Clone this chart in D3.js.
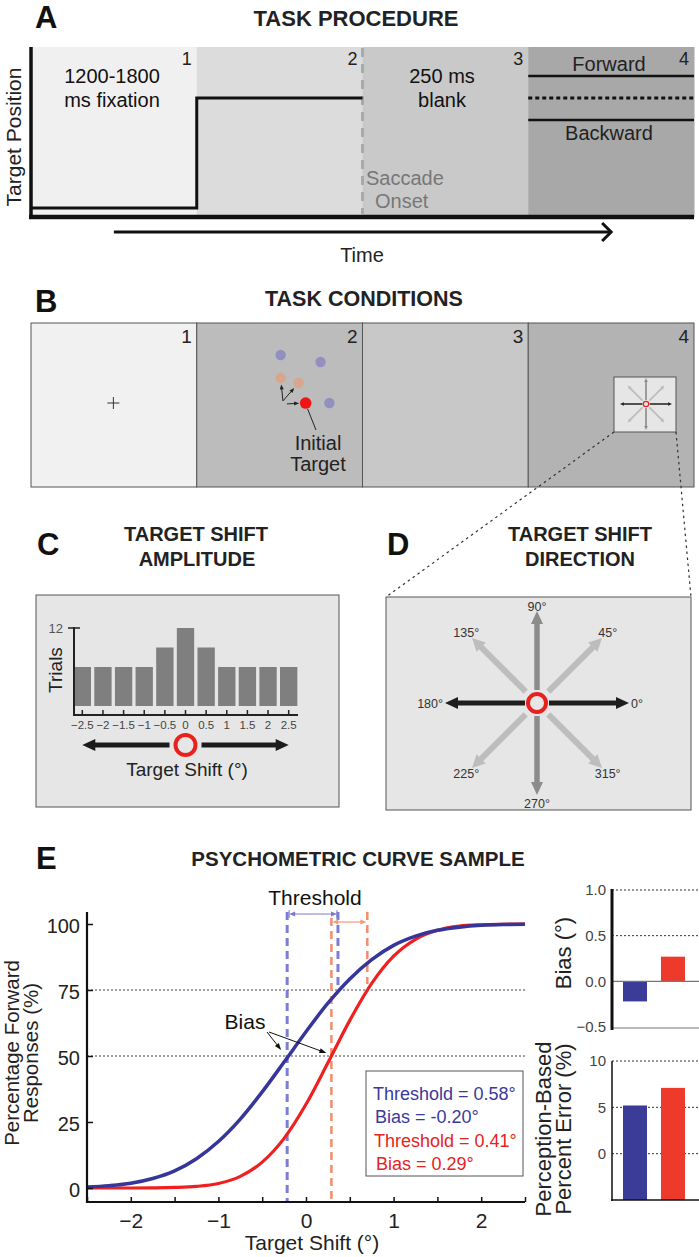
<!DOCTYPE html>
<html><head><meta charset="utf-8">
<script src="https://cdn.jsdelivr.net/npm/d3@7"></script>
<style>
body{margin:0;background:#fff}
svg{display:block}
text{font-family:"Liberation Sans",Arial,Helvetica,sans-serif}
</style>
</head><body>
<svg id="fig" width="699" height="1257"></svg>
<script>
// ---------------- DATA ----------------
const stages = ["1","2","3","4"];
const procedureFills = ["#f0f0f0","#dcdcdc","#c9c9c9","#a8a8a8"];
const conditionFills = ["#f1f1f1","#bcbcbc","#c8c8c8","#b3b3b3"];
// target position trace (time in stage units, position in arbitrary units)
const fixationTrace = [{t:0,pos:0},{t:1,pos:0},{t:1,pos:1},{t:2,pos:1}];
const shiftOptions = [{name:"Forward",pos:1.2},{name:"Backward",pos:0.8}];
const blankPos = 1;
const saccadeTime = 2;
const timeArrow = [0.5, 3.5];

// panel B stimulus items (in a 0-10 local grid of frame 2)
const distractors = [{x:5.06,y:1.95},{x:7.47,y:2.38},{x:8.0,y:4.88}];
const candidates = [{x:5.06,y:3.35},{x:6.14,y:3.66}];
const initialTarget = {x:6.57,y:4.88};
const arrowOrigin = {x:5.2,y:4.75};

// panel C histogram
const shiftLevels = [-2.5,-2,-1.5,-1,-0.5,0,0.5,1,1.5,2,2.5];
const trialCounts = [8,8,8,8,10,12,10,8,8,8,8];

// panel D directions
const directions = [0,45,90,135,180,225,270,315];

// panel E psychometric curves
const shiftGrid = [-2.5,-2.25,-2,-1.75,-1.5,-1.25,-1,-0.75,-0.5,-0.25,0,0.25,0.5,0.75,1,1.25,1.5,1.75,2,2.25,2.5];
const blueForward = [0.4,0.9,1.8,3.6,6.5,11.1,17.6,26.1,36.4,47.7,59.2,70.0,79.2,86.5,91.9,95.4,97.6,98.8,99.5,99.8,99.9];
const redForward  = [0,0,0,0.05,0.2,0.6,1.7,4.4,9.8,18.8,31.7,47.4,63.5,77.5,87.8,94.2,97.6,99.2,99.7,99.9,100];
const blueBias = -0.215, blueThreshold = 0.58;
const redBias = 0.29, redThreshold = 0.41;
const legendLines = ["Threshold = 0.58°","Bias = -0.20°","Threshold = 0.41°","Bias = 0.29°"];

// summary bars
const groups = ["blue","red"];
const groupColors = ["#3b3b98","#ee3a2a"];
const biasValues = [-0.22, 0.27];
const errorValues = [5.2, 7.1];
const biasTicks = [-0.5,0,0.5,1.0];
const errorTicks = [0,5,10];

// ---------------- DRAW ----------------
const svg = d3.select("#fig");
svg.append("rect").attr("width",699).attr("height",1257).attr("fill","#fff");

function label(x,y,s,size,o={}){
  const t = svg.append("text").attr("x",x).attr("y",y).attr("font-size",size)
    .attr("text-anchor",o.anchor||"middle").attr("fill",o.fill||"#111").text(s);
  if(o.bold) t.attr("font-weight","bold");
  if(o.rot) t.attr("transform",`rotate(${o.rot},${x},${y})`);
  return t;
}
function arrow(g,x1,y1,x2,y2,o={}){
  const color=o.color||"#111", w=o.width||2, head=o.head||10, hw=o.headW||8;
  const a=Math.atan2(y2-y1,x2-x1), c=Math.cos(a), s=Math.sin(a);
  const bx=x2-head*c, by=y2-head*s;
  let sx=x1, sy=y1;
  if(o.both){ sx=x1+head*c; sy=y1+head*s; }
  g.append("line").attr("x1",sx).attr("y1",sy).attr("x2",bx+c*0.5).attr("y2",by+s*0.5)
    .attr("stroke",color).attr("stroke-width",w);
  const tri=(tx,ty,ux,uy)=>[[tx,ty],[ux+hw/2*s,uy-hw/2*c],[ux-hw/2*s,uy+hw/2*c]];
  g.append("polygon").attr("points",tri(x2,y2,bx,by).join(" ")).attr("fill",color);
  if(o.both) g.append("polygon").attr("points",tri(x1,y1,sx,sy).join(" ")).attr("fill",color);
}

// ===== Panel A =====
const xStage = d3.scaleBand().domain(stages).range([31,694]);
const tA = d3.scaleLinear().domain([0,4]).range([31,694]);
const pA = d3.scaleLinear().domain([0,1]).range([208,98]);
const gA = svg.append("g");
gA.selectAll("rect").data(stages).join("rect")
  .attr("x",d=>xStage(d)).attr("y",47).attr("width",xStage.bandwidth()+0.5).attr("height",170)
  .attr("fill",(d,i)=>procedureFills[i]);
label(35,28,"A",31,{bold:true,anchor:"start"});
label(356,26,"TASK PROCEDURE",22,{bold:true,fill:"#222"});
stages.forEach(d=>label(xStage(d)+xStage.bandwidth()-5,65,d,18,{anchor:"end",fill:"#222"}));
gA.append("line").attr("x1",tA(saccadeTime)).attr("x2",tA(saccadeTime)).attr("y1",48).attr("y2",214)
  .attr("stroke","#a9a9a9").attr("stroke-width",3).attr("stroke-dasharray","9,7");
gA.append("path").datum(fixationTrace)
  .attr("d",d3.line().x(d=>tA(d.t)).y(d=>pA(d.pos)))
  .attr("fill","none").attr("stroke","#111").attr("stroke-width",3);
shiftOptions.forEach(s=>{
  gA.append("line").attr("x1",tA(3)).attr("x2",tA(4)).attr("y1",pA(s.pos)).attr("y2",pA(s.pos))
    .attr("stroke","#111").attr("stroke-width",2.5);
});
gA.append("line").attr("x1",tA(3)).attr("x2",tA(4)).attr("y1",pA(blankPos)).attr("y2",pA(blankPos))
  .attr("stroke","#111").attr("stroke-width",3).attr("stroke-dasharray","4,3");
gA.append("line").attr("x1",31).attr("x2",31).attr("y1",47).attr("y2",219).attr("stroke","#111").attr("stroke-width",3.5);
gA.append("line").attr("x1",29).attr("x2",694).attr("y1",217).attr("y2",217).attr("stroke","#111").attr("stroke-width",4.5);
label(112,83,"1200-1800",20);
label(112,107,"ms fixation",20);
label(442,83,"250 ms",20);
label(442,107,"blank",20);
label(366,185,"Saccade",20,{anchor:"start",fill:"#777"});
label(375,208,"Onset",20,{anchor:"start",fill:"#777"});
label(609,71,shiftOptions[0].name,20,{fill:"#222"});
label(609,140,shiftOptions[1].name,20,{fill:"#222"});
label(21,137,"Target Position",21,{rot:-90,fill:"#222"});
// time arrow
gA.append("line").attr("x1",tA(timeArrow[0])).attr("x2",tA(timeArrow[1])).attr("y1",232).attr("y2",232)
  .attr("stroke","#111").attr("stroke-width",3);
gA.append("path").attr("d",`M${tA(timeArrow[1])-9},223 L${tA(timeArrow[1])},232 L${tA(timeArrow[1])-9},241`)
  .attr("fill","none").attr("stroke","#111").attr("stroke-width",3);
label(362,262,"Time",20,{fill:"#222"});

// ===== Panel B =====
const gB = svg.append("g");
gB.selectAll("rect").data(stages).join("rect")
  .attr("x",d=>xStage(d)).attr("y",323).attr("width",xStage.bandwidth()).attr("height",164)
  .attr("fill",(d,i)=>conditionFills[i]).attr("stroke","#555").attr("stroke-width",1);
label(35,312,"B",31,{bold:true,anchor:"start"});
label(364,306,"TASK CONDITIONS",21.5,{bold:true,fill:"#222"});
stages.forEach(d=>label(xStage(d)+xStage.bandwidth()-5,343,d,19,{anchor:"end",fill:"#222"}));
// fixation cross
const cx1 = xStage("1")+xStage.bandwidth()/2-0.5, cy1 = 403;
gB.append("path").attr("d",`M${cx1-6},${cy1} H${cx1+6} M${cx1},${cy1-6} V${cy1+6}`).attr("stroke","#333").attr("stroke-width",1);
// frame 2 items
const bx = d3.scaleLinear().domain([0,10]).range([xStage("2"),xStage("2")+xStage.bandwidth()]);
const by = d3.scaleLinear().domain([0,10]).range([323,487]);
gB.selectAll("circle.dis").data(distractors).join("circle").attr("class","dis")
  .attr("cx",d=>bx(d.x)).attr("cy",d=>by(d.y)).attr("r",5.2).attr("fill","#9390c0");
gB.selectAll("circle.cand").data(candidates).join("circle").attr("class","cand")
  .attr("cx",d=>bx(d.x)).attr("cy",d=>by(d.y)).attr("r",5.2).attr("fill","#d6a68e");
gB.append("circle").attr("cx",bx(initialTarget.x)).attr("cy",by(initialTarget.y)).attr("r",5.8).attr("fill","#ee1515");
[...candidates, initialTarget].forEach((d,i)=>{
  const ox = bx(arrowOrigin.x) + (i===2?4:0), oy = by(arrowOrigin.y) + (i===2?3:0);
  const tx = bx(d.x), ty = by(d.y);
  const a = Math.atan2(ty-oy,tx-ox), L = Math.hypot(tx-ox,ty-oy)-6.5;
  arrow(gB, ox, oy, ox+L*Math.cos(a), oy+L*Math.sin(a), {width:1, head:5, headW:4, color:"#222"});
});
gB.append("line").attr("x1",bx(initialTarget.x)+2).attr("y1",by(initialTarget.y)+6)
  .attr("x2",316).attr("y2",430).attr("stroke","#222").attr("stroke-width",1);
label(318,450,"Initial",20,{fill:"#222"});
label(318,471,"Target",20,{fill:"#222"});
// frame 4 inset
gB.append("rect").attr("x",614).attr("y",377).attr("width",62).attr("height",55).attr("fill","#e6e6e6").attr("stroke","#555").attr("stroke-width",1);

function star(g, cx, cy, R, r0, k){
  const dirs = directions.slice().sort((a,b)=>{const rank=d=>d%90!==0?0:(d%180!==0?1:2); return rank(a)-rank(b);});
  dirs.forEach(a=>{
    const rad = a*Math.PI/180;
    const kind = a%90!==0 ? "diag" : (a%180!==0 ? "vert" : "horiz");
    const col = kind==="diag" ? "#bdbdbd" : kind==="vert" ? "#8c8c8c" : "#1e1e1e";
    const w = (kind==="diag"?6:kind==="vert"?5.5:5)*k;
    const start = (kind==="diag"?16:kind==="vert"?13:12)*k;
    arrow(g, cx+start*Math.cos(rad), cy-start*Math.sin(rad), cx+R*Math.cos(rad), cy-R*Math.sin(rad),
      {color:col, width:w, head:13*k, headW:(kind==="diag"?13:12)*k});
  });
  g.append("circle").attr("cx",cx).attr("cy",cy).attr("r",9*k).attr("fill","none").attr("stroke","#e8201e").attr("stroke-width",4*k);
}
star(gB, 646, 404, 26, 4, 0.3);
// zoom connectors
svg.append("line").attr("x1",614).attr("y1",432).attr("x2",386).attr("y2",597).attr("stroke","#333").attr("stroke-width",1.2).attr("stroke-dasharray","2.5,3.5");
svg.append("line").attr("x1",676).attr("y1",432).attr("x2",691).attr("y2",597).attr("stroke","#333").attr("stroke-width",1.2).attr("stroke-dasharray","2.5,3.5");

// ===== Panel C =====
label(37,555,"C",31,{bold:true,anchor:"start"});
label(196,541,"TARGET SHIFT",20,{bold:true,fill:"#222"});
label(197,566,"AMPLITUDE",20,{bold:true,fill:"#222"});
const gC = svg.append("g");
gC.append("rect").attr("x",36).attr("y",595).attr("width",303).attr("height",212).attr("fill","#e6e6e6").attr("stroke","#555").attr("stroke-width",1);
const xC = d3.scaleBand().domain(shiftLevels).range([72,299]).paddingInner(0.16).paddingOuter(0.08);
const yC = d3.scaleLinear().domain([4,12]).range([706,628]);
gC.selectAll("rect.bar").data(shiftLevels).join("rect").attr("class","bar")
  .attr("x",d=>xC(d)).attr("width",xC.bandwidth())
  .attr("y",(d,i)=>yC(trialCounts[i])).attr("height",(d,i)=>yC(4)-yC(trialCounts[i]))
  .attr("fill","#7f7f7f");
const axC = gC.append("g").attr("transform","translate(0,715)")
  .call(d3.axisBottom(xC).tickSizeInner(-5).tickSizeOuter(0).tickPadding(6)
    .tickFormat(d=>(d<0?"−":"")+Math.abs(d)));
axC.select(".domain").remove();
axC.attr("font-size",11.5).attr("font-family",null);
axC.selectAll("line").attr("stroke","#222").attr("stroke-width",1.5);
axC.selectAll("text").attr("fill","#444");
gC.append("line").attr("x1",73).attr("x2",298).attr("y1",715).attr("y2",715).attr("stroke","#222").attr("stroke-width",2);
gC.append("line").attr("x1",74).attr("x2",74).attr("y1",627).attr("y2",716).attr("stroke","#222").attr("stroke-width",2);
gC.append("line").attr("x1",68).attr("x2",80).attr("y1",yC(12)).attr("y2",yC(12)).attr("stroke","#222").attr("stroke-width",1.5);
label(63,yC(12)+4.5,"12",13,{anchor:"end",fill:"#555"});
label(62,670,"Trials",19,{rot:-90,fill:"#222"});
const cC = xC(0)+xC.bandwidth()/2;
arrow(gC, cC-16, 745, xC(-2.5)+xC.bandwidth()/2, 745, {width:5, head:13, headW:12, color:"#1b1b1b"});
arrow(gC, cC+16, 745, xC(2.5)+xC.bandwidth()/2, 745, {width:5, head:13, headW:12, color:"#1b1b1b"});
gC.append("circle").attr("cx",cC).attr("cy",745).attr("r",10).attr("fill","none").attr("stroke","#e8201e").attr("stroke-width",4);
label(187,776,"Target Shift (°)",19,{fill:"#222"});

// ===== Panel D =====
label(387,555,"D",31,{bold:true,anchor:"start"});
label(580,541,"TARGET SHIFT",20,{bold:true,fill:"#222"});
label(580,566,"DIRECTION",20,{bold:true,fill:"#222"});
const gD = svg.append("g");
gD.append("rect").attr("x",386).attr("y",597).attr("width",305).attr("height",213).attr("fill","#e6e6e6").attr("stroke","#555").attr("stroke-width",1);
star(gD, 537, 703, 92, 12, 1);
directions.forEach(a=>{
  const rad=a*Math.PI/180;
  let r = (a===0||a===180)?94:(a===90?97:100);
  const x = 537 + r*Math.cos(rad), y = 703 - r*Math.sin(rad);
  label(x, y+4.5, a+"°", 12.5, {anchor: a===0?"start":(a===180?"end":"middle"), fill:"#333"});
});

// ===== Panel E =====
label(36,869,"E",31,{bold:true,anchor:"start"});
label(358,866,"PSYCHOMETRIC CURVE SAMPLE",20.5,{bold:true,fill:"#222"});
const gE = svg.append("g");
const xE = d3.scaleLinear().domain([-2.5,2.5]).range([87,525]);
const yE = d3.scaleLinear().domain([0,100]).range([1188,924]);
[75,50].forEach(v=>gE.append("line").attr("x1",87).attr("x2",525).attr("y1",yE(v)).attr("y2",yE(v))
  .attr("stroke","#444").attr("stroke-width",1).attr("stroke-dasharray","2,2"));
// dashed bias/threshold lines
function vdash(x,y1,y2,col,w){ gE.append("line").attr("x1",xE(x)).attr("x2",xE(x)).attr("y1",y1).attr("y2",y2)
  .attr("stroke",col).attr("stroke-width",w).attr("stroke-dasharray","8,5"); }
const blueDash="#7d7dd6", redDash="#f58c6c";
vdash(blueBias, 912, 1201, blueDash, 3);
vdash(blueBias+blueThreshold, 912, yE(75)-2, blueDash, 3);
vdash(redBias, 918, 1201, redDash, 2.5);
vdash(redBias+redThreshold, 912, yE(75)-6, redDash, 2.5);
// threshold arrows
arrow(gE, xE(blueBias)+2, 914, xE(blueBias+blueThreshold)-1, 914, {both:true, width:1, head:6, headW:5, color:"#7a7ac8"});
gE.append("line").attr("x1",xE(blueBias)+2).attr("x2",xE(blueBias)+2).attr("y1",910).attr("y2",918).attr("stroke","#7a7ac8");
gE.append("line").attr("x1",xE(blueBias+blueThreshold)-1).attr("x2",xE(blueBias+blueThreshold)-1).attr("y1",910).attr("y2",918).attr("stroke","#7a7ac8");
arrow(gE, xE(redBias)+1, 922, xE(redBias+redThreshold)-1, 922, {both:true, width:1.2, head:6, headW:5, color:"#f39a7c"});
// curves
const lineE = d3.line().x((d,i)=>xE(shiftGrid[i])).y(d=>yE(d)).curve(d3.curveMonotoneX);
gE.append("path").datum(redForward).attr("d",lineE).attr("fill","none").attr("stroke","#ee2020").attr("stroke-width",3.2);
gE.append("path").datum(blueForward).attr("d",lineE).attr("fill","none").attr("stroke","#35359a").attr("stroke-width",3.5);
// axes
const axXE = gE.append("g").attr("transform","translate(0,1202)")
  .call(d3.axisBottom(xE).tickValues([-2.5,-2,-1.5,-1,-0.5,0,0.5,1,1.5,2,2.5]).tickSizeInner(-5).tickSizeOuter(0).tickPadding(11)
    .tickFormat(d=>Number.isInteger(d)?d3.format("d")(d):""));
axXE.select(".domain").remove();
axXE.attr("font-size",21).attr("font-family",null);
axXE.selectAll("line").attr("stroke","#111").attr("stroke-width",1.5);
axXE.selectAll("text").attr("fill","#222");
const axYE = gE.append("g").attr("transform","translate(87,0)")
  .call(d3.axisLeft(yE).tickValues([0,25,50,75,100]).tickSizeInner(-6).tickSizeOuter(0).tickPadding(7));
axYE.select(".domain").remove();
axYE.attr("font-size",20).attr("font-family",null);
axYE.selectAll("line").attr("stroke","#111").attr("stroke-width",1.5);
axYE.selectAll("text").attr("fill","#222").attr("dy","0.4em");
gE.append("line").attr("x1",87).attr("x2",87).attr("y1",912).attr("y2",1203).attr("stroke","#111").attr("stroke-width",2.2);
gE.append("line").attr("x1",86).attr("x2",525).attr("y1",1202).attr("y2",1202).attr("stroke","#111").attr("stroke-width",2.2);
label(312,1250,"Target Shift (°)",21,{fill:"#222"});
label(19,1053,"Percentage Forward",20.5,{rot:-90,fill:"#222"});
label(38,1053,"Responses (%)",20.5,{rot:-90,fill:"#222"});
label(315,905,"Threshold",21,{fill:"#111"});
label(245,1029,"Bias",21,{fill:"#111"});
arrow(gE, 267, 1032, xE(blueBias)-6, yE(50)-6, {width:1, head:7, headW:5, color:"#111"});
arrow(gE, 269, 1032, xE(redBias)-5, yE(50)-3, {width:1, head:7, headW:5, color:"#111"});
// legend
gE.append("rect").attr("x",366).attr("y",1071).attr("width",157).attr("height",105).attr("fill","#fff").attr("stroke","#555").attr("stroke-width",1);
const legendColors = ["#3a3a9a","#3a3a9a","#e82222","#e82222"];
const legendY = [1100,1123,1147,1170];
const legendX = [373,375,374,376];
legendLines.forEach((s,i)=>label(legendX[i],legendY[i],s,18,{anchor:"start",fill:legendColors[i]}));

// ===== Summary bars =====
const xBar = d3.scaleBand().domain(groups).range([612,696]).paddingInner(0.368).paddingOuter(0.29);
const yBias = d3.scaleLinear().domain([-0.5,1.0]).range([1027,890]);
const yErr = d3.scaleLinear().domain([-5,10]).range([1200,1061]);
const gS = svg.append("g");
[1.0,0.5].forEach(v=>gS.append("line").attr("x1",612).attr("x2",699).attr("y1",yBias(v)).attr("y2",yBias(v))
  .attr("stroke","#333").attr("stroke-width",1).attr("stroke-dasharray","2,2"));
gS.selectAll("rect.bias").data(groups).join("rect").attr("class","bias")
  .attr("x",d=>xBar(d)).attr("width",xBar.bandwidth())
  .attr("y",(d,i)=>yBias(Math.max(0,biasValues[i]))).attr("height",(d,i)=>Math.abs(yBias(biasValues[i])-yBias(0)))
  .attr("fill",(d,i)=>groupColors[i]);
gS.append("line").attr("x1",612).attr("x2",699).attr("y1",yBias(0)).attr("y2",yBias(0)).attr("stroke","#777").attr("stroke-width",1.2);
gS.append("line").attr("x1",612).attr("x2",699).attr("y1",1028).attr("y2",1028).attr("stroke","#777").attr("stroke-width",1.2);
gS.append("line").attr("x1",612).attr("x2",612).attr("y1",889).attr("y2",1030).attr("stroke","#111").attr("stroke-width",3);
const axB = gS.append("g").attr("transform","translate(612,0)")
  .call(d3.axisLeft(yBias).tickValues(biasTicks).tickSize(0).tickPadding(6).tickFormat(d3.format(".1f")));
axB.select(".domain").remove();
axB.attr("font-size",15).attr("font-family",null);
axB.selectAll("text").attr("fill","#444");
label(571,953,"Bias (°)",22,{rot:-90,fill:"#222"});

errorTicks.forEach(v=>gS.append("line").attr("x1",612).attr("x2",699).attr("y1",yErr(v)).attr("y2",yErr(v))
  .attr("stroke","#333").attr("stroke-width",1).attr("stroke-dasharray","2,2"));
gS.selectAll("rect.err").data(groups).join("rect").attr("class","err")
  .attr("x",d=>xBar(d)).attr("width",xBar.bandwidth())
  .attr("y",(d,i)=>yErr(errorValues[i])).attr("height",(d,i)=>yErr(-5)-yErr(errorValues[i]))
  .attr("fill",(d,i)=>groupColors[i]);
gS.append("line").attr("x1",612).attr("x2",612).attr("y1",1061).attr("y2",1201).attr("stroke","#111").attr("stroke-width",1.5);
gS.append("line").attr("x1",611).attr("x2",699).attr("y1",1200).attr("y2",1200).attr("stroke","#111").attr("stroke-width",1.5);
const axErr = gS.append("g").attr("transform","translate(612,0)")
  .call(d3.axisLeft(yErr).tickValues(errorTicks).tickSize(0).tickPadding(6).tickFormat(d3.format("d")));
axErr.select(".domain").remove();
axErr.attr("font-size",15).attr("font-family",null);
axErr.selectAll("text").attr("fill","#444");
label(551,1129,"Perception-Based",22,{rot:-90,fill:"#222"});
label(571,1129,"Percent Error (%)",22,{rot:-90,fill:"#222"});
</script>
</body></html>
